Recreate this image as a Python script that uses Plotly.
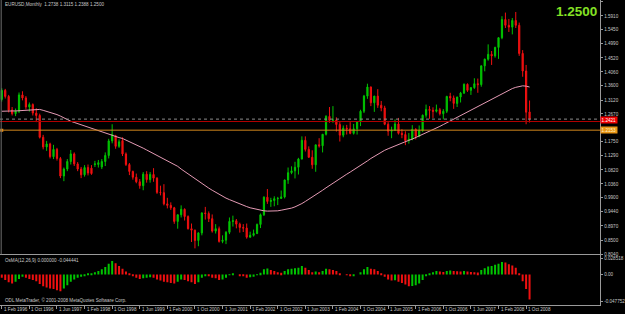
import plotly.graph_objects as go

# ---------------- data ----------------
header_text = "EURUSD,Monthly  1.2738 1.3115 1.2388 1.2500"
osma_title = "OsMA(12,26,9) 0.000000 -0.044441"
copyright_text = "ODL MetaTrader, \u00a9 2001-2008 MetaQuotes Software Corp."

date_labels = ["1 Feb 1996", "1 Oct 1996", "1 Jun 1997", "1 Feb 1998", "1 Oct 1998",
               "1 Jun 1999", "1 Feb 2000", "1 Oct 2000", "1 Jun 2001", "1 Feb 2002",
               "1 Oct 2002", "1 Jun 2003", "1 Feb 2004", "1 Oct 2004", "1 Jun 2005",
               "1 Feb 2006", "1 Oct 2006", "1 Jun 2007", "1 Feb 2008", "1 Oct 2008"]
date_label_idx = [0, 8, 16, 24, 32, 40, 48, 56, 64, 72, 80, 88, 96, 104, 112,
                  120, 128, 136, 144, 152]

opens = [
    1.315, 1.345, 1.325, 1.280, 1.268, 1.276, 1.330, 1.320, 1.290, 1.298,
    1.270, 1.262, 1.190, 1.158, 1.168, 1.126, 1.150, 1.120, 1.062, 1.085,
    1.110, 1.135, 1.102, 1.085, 1.066, 1.090, 1.088, 1.100, 1.100, 1.092,
    1.110, 1.130, 1.178, 1.195, 1.160, 1.179, 1.135, 1.100, 1.077, 1.058,
    1.043, 1.030, 1.068, 1.050, 1.067, 1.055, 1.008, 1.007, 0.970, 0.965,
    0.957, 0.912, 0.934, 0.952, 0.928, 0.888, 0.883, 0.849, 0.874, 0.940,
    0.938, 0.921, 0.880, 0.888, 0.846, 0.850, 0.876, 0.912, 0.914, 0.903,
    0.892, 0.890, 0.860, 0.866, 0.872, 0.902, 0.934, 0.992, 0.978, 0.981,
    0.987, 0.988, 0.993, 1.049, 1.073, 1.079, 1.091, 1.118, 1.180, 1.150,
    1.124, 1.099, 1.165, 1.162, 1.200, 1.259, 1.246, 1.247, 1.232, 1.197,
    1.220, 1.218, 1.203, 1.218, 1.242, 1.276, 1.326, 1.356, 1.304, 1.326,
    1.296, 1.287, 1.233, 1.210, 1.213, 1.234, 1.203, 1.199, 1.179, 1.184,
    1.216, 1.193, 1.212, 1.263, 1.282, 1.279, 1.276, 1.281, 1.268, 1.276,
    1.325, 1.320, 1.302, 1.323, 1.336, 1.365, 1.345, 1.354, 1.367, 1.364,
    1.426, 1.448, 1.464, 1.459, 1.487, 1.519, 1.579, 1.560, 1.554, 1.576,
    1.560, 1.467, 1.409, 1.2738]
highs = [
    1.352, 1.350, 1.330, 1.290, 1.285, 1.338, 1.342, 1.326, 1.305, 1.302,
    1.286, 1.268, 1.198, 1.178, 1.172, 1.165, 1.155, 1.125, 1.090, 1.118,
    1.148, 1.140, 1.108, 1.092, 1.098, 1.100, 1.098, 1.112, 1.115, 1.118,
    1.140, 1.185, 1.233, 1.198, 1.183, 1.190, 1.140, 1.105, 1.080, 1.070,
    1.052, 1.075, 1.078, 1.075, 1.088, 1.058, 1.030, 1.035, 0.990, 0.975,
    0.960, 0.935, 0.965, 0.955, 0.932, 0.905, 0.885, 0.876, 0.942, 0.960,
    0.945, 0.935, 0.903, 0.895, 0.866, 0.880, 0.925, 0.931, 0.920, 0.908,
    0.903, 0.905, 0.878, 0.885, 0.905, 0.938, 0.995, 1.019, 0.990, 0.995,
    0.993, 1.014, 1.050, 1.090, 1.094, 1.109, 1.122, 1.193, 1.193, 1.160,
    1.147, 1.165, 1.187, 1.200, 1.263, 1.290, 1.293, 1.256, 1.240, 1.229,
    1.231, 1.240, 1.234, 1.243, 1.281, 1.330, 1.367, 1.358, 1.327, 1.349,
    1.310, 1.294, 1.240, 1.225, 1.249, 1.254, 1.217, 1.210, 1.204, 1.230,
    1.220, 1.229, 1.265, 1.298, 1.293, 1.289, 1.298, 1.287, 1.283, 1.327,
    1.337, 1.328, 1.324, 1.340, 1.368, 1.368, 1.356, 1.385, 1.384, 1.427,
    1.450, 1.497, 1.475, 1.489, 1.520, 1.590, 1.602, 1.581, 1.584, 1.604,
    1.569, 1.478, 1.429, 1.3115]
lows = [
    1.308, 1.318, 1.272, 1.262, 1.260, 1.270, 1.312, 1.282, 1.275, 1.262,
    1.240, 1.186, 1.150, 1.145, 1.120, 1.118, 1.113, 1.055, 1.045, 1.078,
    1.100, 1.095, 1.078, 1.055, 1.060, 1.064, 1.066, 1.092, 1.090, 1.085,
    1.095, 1.120, 1.170, 1.152, 1.155, 1.128, 1.095, 1.065, 1.050, 1.038,
    1.020, 1.015, 1.040, 1.040, 1.043, 1.003, 0.998, 0.965, 0.955, 0.950,
    0.904, 0.888, 0.925, 0.915, 0.885, 0.844, 0.823, 0.830, 0.866, 0.918,
    0.910, 0.875, 0.872, 0.842, 0.840, 0.837, 0.870, 0.895, 0.889, 0.875,
    0.877, 0.855, 0.858, 0.862, 0.870, 0.890, 0.930, 0.970, 0.960, 0.962,
    0.966, 0.986, 0.988, 1.036, 1.068, 1.054, 1.067, 1.117, 1.143, 1.122,
    1.086, 1.076, 1.156, 1.140, 1.196, 1.238, 1.238, 1.209, 1.176, 1.190,
    1.199, 1.200, 1.199, 1.199, 1.227, 1.270, 1.317, 1.293, 1.274, 1.287,
    1.276, 1.230, 1.195, 1.187, 1.212, 1.199, 1.187, 1.164, 1.169, 1.180,
    1.183, 1.190, 1.208, 1.255, 1.251, 1.254, 1.272, 1.262, 1.249, 1.270,
    1.309, 1.284, 1.290, 1.305, 1.333, 1.340, 1.330, 1.350, 1.337, 1.357,
    1.408, 1.443, 1.429, 1.453, 1.449, 1.514, 1.551, 1.538, 1.530, 1.551,
    1.459, 1.390, 1.233, 1.2388]
closes = [
    1.345, 1.325, 1.280, 1.268, 1.276, 1.330, 1.320, 1.290, 1.298, 1.270,
    1.262, 1.190, 1.158, 1.168, 1.126, 1.150, 1.120, 1.062, 1.085, 1.110,
    1.135, 1.102, 1.085, 1.066, 1.090, 1.072, 1.070, 1.102, 1.106, 1.110,
    1.130, 1.178, 1.200, 1.160, 1.175, 1.135, 1.100, 1.077, 1.058, 1.043,
    1.030, 1.068, 1.050, 1.067, 1.055, 1.008, 1.007, 0.970, 0.965, 0.957,
    0.912, 0.934, 0.952, 0.928, 0.888, 0.883, 0.849, 0.874, 0.940, 0.938,
    0.921, 0.880, 0.888, 0.846, 0.850, 0.876, 0.912, 0.914, 0.903, 0.892,
    0.890, 0.860, 0.866, 0.872, 0.902, 0.934, 0.992, 0.978, 0.981, 0.987,
    0.988, 0.993, 1.049, 1.073, 1.079, 1.091, 1.118, 1.180, 1.150, 1.124,
    1.099, 1.165, 1.162, 1.200, 1.259, 1.246, 1.247, 1.232, 1.197, 1.220,
    1.218, 1.203, 1.218, 1.242, 1.276, 1.326, 1.356, 1.304, 1.326, 1.296,
    1.287, 1.233, 1.210, 1.213, 1.234, 1.203, 1.199, 1.179, 1.184, 1.216,
    1.193, 1.212, 1.263, 1.282, 1.279, 1.276, 1.281, 1.268, 1.276, 1.325,
    1.320, 1.302, 1.323, 1.336, 1.365, 1.345, 1.354, 1.367, 1.364, 1.426,
    1.448, 1.464, 1.459, 1.487, 1.519, 1.579, 1.560, 1.554, 1.576, 1.560,
    1.467, 1.409, 1.273, 1.2500]

ma_values = [
    1.276, 1.277, 1.277, 1.277, 1.277, 1.278, 1.279, 1.280, 1.281, 1.282,
    1.283, 1.282, 1.279, 1.276, 1.273, 1.269, 1.265, 1.260, 1.254, 1.248,
    1.243, 1.239, 1.235, 1.231, 1.227, 1.223, 1.219, 1.215, 1.211, 1.207,
    1.203, 1.199, 1.195, 1.192, 1.189, 1.186, 1.181, 1.176, 1.170, 1.165,
    1.159, 1.154, 1.148, 1.142, 1.136, 1.130, 1.124, 1.118, 1.112, 1.106,
    1.100, 1.094, 1.085, 1.077, 1.068, 1.060, 1.051, 1.043, 1.036, 1.029,
    1.022, 1.015, 1.008, 1.001, 0.995, 0.989, 0.984, 0.979, 0.974, 0.969,
    0.965, 0.961, 0.957, 0.954, 0.951, 0.949, 0.947, 0.946, 0.946, 0.946,
    0.947, 0.949, 0.951, 0.953, 0.956, 0.960, 0.965, 0.971, 0.978, 0.985,
    0.992, 0.999, 1.007, 1.015, 1.023, 1.031, 1.039, 1.047, 1.054, 1.061,
    1.068, 1.075, 1.082, 1.089, 1.096, 1.104, 1.112, 1.120, 1.127, 1.134,
    1.141, 1.147, 1.152, 1.157, 1.162, 1.167, 1.172, 1.176, 1.180, 1.184,
    1.189, 1.194, 1.199, 1.204, 1.210, 1.215, 1.220, 1.226, 1.232, 1.238,
    1.244, 1.250, 1.256, 1.262, 1.268, 1.274, 1.280, 1.286, 1.292, 1.298,
    1.305, 1.311, 1.317, 1.323, 1.329, 1.335, 1.341, 1.346, 1.351, 1.355,
    1.358, 1.360, 1.359, 1.356]

osma_values = [
    -0.006, -0.010, -0.014, -0.016, -0.013, -0.008, -0.004, -0.006, -0.008, -0.010,
    -0.012, -0.017, -0.021, -0.023, -0.025, -0.026, -0.028, -0.030, -0.025, -0.019,
    -0.013, -0.009, -0.006, -0.004, -0.002, 0.001, 0.002, 0.004, 0.006, 0.009,
    0.013, 0.019, 0.024, 0.020, 0.015, 0.010, 0.005, 0.001, -0.003, -0.006,
    -0.008, -0.007, -0.006, -0.005, -0.006, -0.009, -0.011, -0.013, -0.014, -0.015,
    -0.016, -0.013, -0.009, -0.010, -0.012, -0.014, -0.017, -0.014, -0.006, -0.002,
    -0.003, -0.006, -0.007, -0.010, -0.009, -0.006, -0.001, 0.001, 0.000, -0.002,
    -0.003, -0.006, -0.005, -0.004, -0.001, 0.003, 0.009, 0.0105, 0.008, 0.006,
    0.004, 0.003, 0.006, 0.009, 0.010, 0.011, 0.012, 0.015, 0.012, 0.008,
    0.004, 0.005, 0.004, 0.006, 0.010, 0.009, 0.008, 0.006, 0.002, 0.000,
    -0.001, -0.003, -0.002, 0.000, 0.004, 0.009, 0.013, 0.010, 0.009, 0.006,
    0.002, -0.004, -0.009, -0.011, -0.0105, -0.013, -0.015, -0.018, -0.021, -0.0205,
    -0.019, -0.016, -0.010, -0.003, 0.002, 0.004, 0.006, 0.005, 0.0045, 0.006,
    0.007, 0.006, 0.0055, 0.005, 0.006, 0.005, 0.0045, 0.004, 0.0035, 0.008,
    0.011, 0.014, 0.015, 0.017, 0.019, 0.022, 0.021, 0.018, 0.016, 0.012,
    0.001, -0.012, -0.026, -0.044441]

price_ticks = [1.6380, 1.5910, 1.5450, 1.4990, 1.4520, 1.4060, 1.3600, 1.3120, 1.2670,
               1.1750, 1.1290, 1.0820, 1.0360, 0.9900, 0.9440, 0.8970, 0.8500, 0.8040]
price_tick_text = ["1.6380", "1.5910", "1.5450", "1.4990", "1.4520", "1.4060", "1.3600",
                   "1.3120", "1.2670", "1.1750", "1.1290", "1.0820", "1.0360", "0.9900",
                   "0.9440", "0.8970", "0.8500", "0.8040"]
osma_ticks = [0.028518, 0.0, -0.047752]
osma_tick_text = ["0.028518", "0.00", "-0.047752"]

bid_price = 1.2500
red_level = 1.2421
orange_level = 1.2135
red_label = "1.2421"
orange_label = "1.2153"

# ---------------- styling ----------------
W, H = 625, 314
FONT = "Liberation Sans, Arial, sans-serif"
TXT = "#C8C8C8"
AX = "#9A9A9A"
GREEN = "#00C400"
RED = "#F01010"

n = len(closes)
months = list(range(n))
osma_colors = []
for k, v in enumerate(osma_values):
    if k > 0 and v > osma_values[k - 1]:
        osma_colors.append(GREEN)
    else:
        osma_colors.append(RED)

plot_right = 609 / W
main_dom = [1 - 256 / H, 1]
ind_dom = [1 - 307 / H, 1 - 257 / H]

fig = go.Figure()
fig.add_trace(go.Candlestick(
    x=months, open=opens, high=highs, low=lows, close=closes,
    increasing=dict(line=dict(color=GREEN, width=1), fillcolor=GREEN),
    decreasing=dict(line=dict(color=RED, width=1), fillcolor=RED),
    whiskerwidth=0, xaxis="x", yaxis="y", showlegend=False, hoverinfo="skip"))
fig.add_trace(go.Scatter(
    x=months, y=ma_values, mode="lines", line=dict(color="#E49AB4", width=1),
    xaxis="x", yaxis="y", showlegend=False, hoverinfo="skip"))
fig.add_trace(go.Scatter(
    x=[months[0]], y=[orange_level], mode="markers",
    marker=dict(symbol="square", size=3, color="#E8901C"),
    xaxis="x", yaxis="y", showlegend=False, hoverinfo="skip"))
fig.add_trace(go.Bar(
    x=months, y=osma_values, marker=dict(color=osma_colors, line=dict(width=0)),
    xaxis="x2", yaxis="y2", showlegend=False, hoverinfo="skip"))

# horizontal level lines
fig.add_shape(type="line", xref="x domain", yref="y", x0=0, x1=1, y0=bid_price, y1=bid_price,
              line=dict(color="#8C8C8C", width=1, dash="dot"))
fig.add_shape(type="line", xref="x domain", yref="y", x0=0, x1=1, y0=red_level, y1=red_level,
              line=dict(color="#B00000", width=1))
fig.add_shape(type="line", xref="x domain", yref="y", x0=0, x1=1, y0=orange_level, y1=orange_level,
              line=dict(color="#D4881C", width=1))
# left border line of the chart
fig.add_shape(type="line", xref="paper", yref="paper", x0=1.2 / W, x1=1.2 / W,
              y0=main_dom[0], y1=1, line=dict(color="#6E6E6E", width=1))

annotations = [
    dict(text=header_text, x=3 / W, y=1 - 5 / H, xref="paper", yref="paper",
         xanchor="left", yanchor="middle", showarrow=False,
         font=dict(size=4.6, color=TXT, family=FONT)),
    dict(text="<b>%.4f</b>" % bid_price, x=607.5 / W, y=1 - 11.5 / H, xref="paper", yref="paper",
         xanchor="right", yanchor="middle", showarrow=False,
         font=dict(size=13.5, color="#84E024", family=FONT)),
    dict(text=osma_title, x=3 / W, y=1 - 262 / H, xref="paper", yref="paper",
         xanchor="left", yanchor="middle", showarrow=False,
         font=dict(size=4.6, color=TXT, family=FONT)),
    dict(text=copyright_text, x=3 / W, y=1 - 302 / H, xref="paper", yref="paper",
         xanchor="left", yanchor="middle", showarrow=False,
         font=dict(size=4.6, color=TXT, family=FONT)),
    dict(text=red_label, x=1, xref="x domain", y=red_level + 0.0035, yref="y",
         xanchor="left", yanchor="middle", showarrow=False, bgcolor="#F00000",
         borderpad=0.6, font=dict(size=4.6, color="#FFFFFF", family=FONT)),
    dict(text=orange_label, x=1, xref="x domain", y=orange_level, yref="y",
         xanchor="left", yanchor="middle", showarrow=False, bgcolor="#E89414",
         borderpad=0.6, font=dict(size=4.6, color="#FFF4C8", family=FONT)),
]
for lbl, idx in zip(date_labels, date_label_idx):
    annotations.append(dict(text=lbl, x=idx, xref="x2", y=1 - 311 / H, yref="paper",
                            xanchor="left", yanchor="middle", showarrow=False, xshift=0,
                            font=dict(size=4.6, color=TXT, family=FONT)))

xr = [-1.8 / 3.5, 609 / 3.5 - 1.8 / 3.5]
fig.update_layout(
    width=W, height=H, margin=dict(l=0, r=0, t=0, b=0),
    paper_bgcolor="#000000", plot_bgcolor="#000000",
    font=dict(family=FONT, color=TXT, size=5),
    bargap=0.42, boxgap=0.5, showlegend=False,
    annotations=annotations,
    xaxis=dict(domain=[0, plot_right], anchor="y", range=xr, showgrid=False, zeroline=False,
               showticklabels=False, showline=True, linecolor=AX, linewidth=1,
               rangeslider=dict(visible=False), fixedrange=True),
    xaxis2=dict(domain=[0, plot_right], anchor="y2", range=xr, matches="x", showgrid=False,
                zeroline=False, showticklabels=False, showline=True, linecolor=AX, linewidth=1,
                ticks="outside", ticklen=3, tickcolor=AX, tickvals=date_label_idx),
    yaxis=dict(domain=main_dom, anchor="x", side="right", range=[0.8031, 1.6436],
               showgrid=False, zeroline=False, showline=True, linecolor=AX, linewidth=1,
               ticks="outside", ticklen=2, tickcolor=AX, tickvals=price_ticks,
               ticktext=price_tick_text, tickfont=dict(size=4.6, color=TXT, family=FONT)),
    yaxis2=dict(domain=ind_dom, anchor="x2", side="right", range=[-0.0543, 0.0338],
                showgrid=False, zeroline=False, showline=True, linecolor=AX, linewidth=1,
                ticks="outside", ticklen=2, tickcolor=AX, tickvals=osma_ticks,
                ticktext=osma_tick_text, tickfont=dict(size=4.6, color=TXT, family=FONT)),
)

fig.write_html("out.html")
